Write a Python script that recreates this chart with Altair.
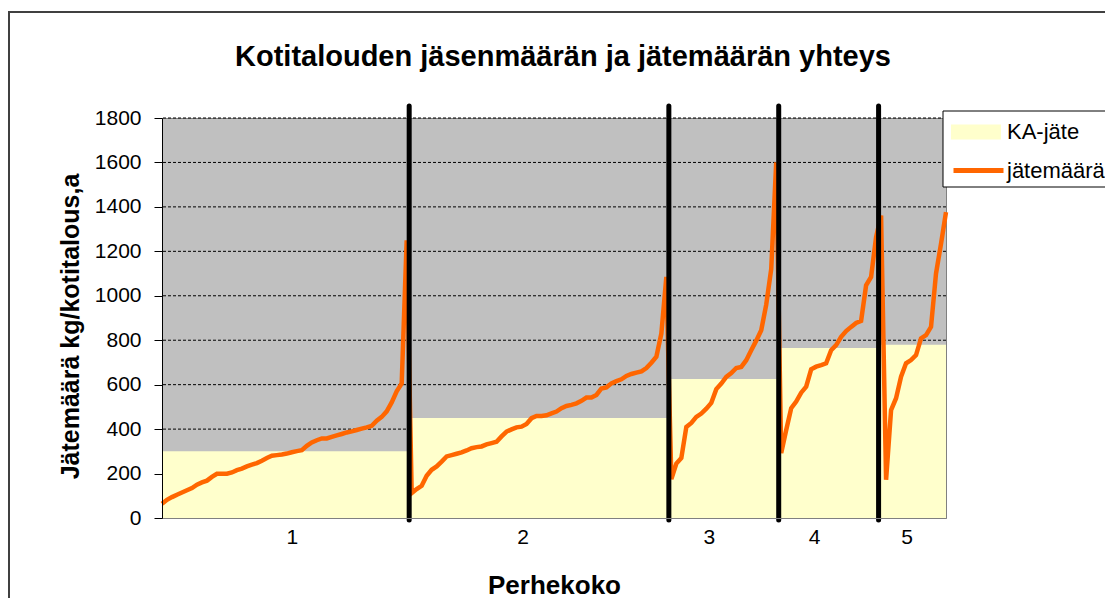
import altair as alt
import pandas as pd

F = "Liberation Sans"

# family sizes (household member count) and sorted annual waste per household (kg)
sizes = ["1", "2", "3", "4", "5"]
waste_1 = [64, 82, 94, 105, 115, 125, 135, 150, 160, 168, 185, 199, 199, 199, 205,
           215, 222, 232, 240, 247, 258, 270, 280, 283, 286, 290, 296, 301, 305, 325,
           340, 350, 358, 358, 365, 372, 378, 385, 390, 396, 402, 408, 415, 438, 455,
           480, 520, 570, 605, 1250]
waste_2 = [112, 130, 145, 190, 217, 232, 254, 277, 283, 289, 295, 304, 314, 319, 322,
           331, 337, 343, 367, 389, 399, 408, 411, 423, 449, 459, 459, 462, 471, 479,
           494, 504, 509, 516, 527, 542, 542, 554, 583, 588, 606, 616, 624, 639, 648,
           654, 660, 675, 699, 726, 830, 1085]
waste_3 = [175, 245, 270, 410, 428, 455, 470, 492, 518, 580, 605, 635, 652, 675, 680,
           710, 755, 798, 845, 960, 1120, 1600]
waste_4 = [292, 396, 494, 524, 564, 591, 669, 681, 688, 696, 755, 778, 815, 841, 860,
           878, 887, 1047, 1085, 1264]
waste_5 = [1361, 172, 486, 539, 636, 696, 711, 733, 808, 823, 860, 1100, 1234, 1376]
avg_waste = [300, 450, 625, 765, 780]          # KA-jäte per family size
label_at = [26, 72.2, 109.5, 130.6, 149.1]     # household index where size labels sit
y_ticks = [0, 200, 400, 600, 800, 1000, 1200, 1400, 1600, 1800]

groups = [waste_1, waste_2, waste_3, waste_4, waste_5]
rows = []
ends = []
idx = 0
for s, vals in zip(sizes, groups):
    for v in vals:
        rows.append({"i": idx, "kg": v, "koko": s, "sarja": "jätemäärä"})
        idx += 1
    ends.append(idx - 1)
n_last = idx - 1
x0 = [0] + [e + 0.5 for e in ends[:-1]]
x1 = [e + 0.5 for e in ends[:-1]] + [n_last]

line_df = pd.DataFrame(rows)
avg_df = pd.DataFrame({"koko": sizes, "x0": x0, "x1": x1, "ka": avg_waste,
                       "sarja": ["KA-jäte"] * len(sizes)})
bound_df = pd.DataFrame({"b": x1[:-1]})
grid_df = pd.DataFrame({"g": y_ticks[1:]})
one = pd.DataFrame({"k": [0]})

xscale = alt.Scale(domain=[0, n_last], nice=False, zero=False)
yscale = alt.Scale(domain=[0, 1800], nice=False)

label_expr = " : ".join(f"datum.value == {p} ? '{s}'" for p, s in zip(label_at, sizes)) + " : ''"

xaxis = alt.Axis(values=label_at, labelExpr=label_expr, ticks=False, tickSize=0, grid=False,
                 domainColor="#808080", labelFont=F, labelFontSize=21, labelColor="black",
                 labelPadding=8, labelFlush=False, labelOverlap=False,
                 title="Perhekoko", titleFont=F, titleFontSize=26, titleFontWeight="bold",
                 titleColor="black", titleX=392, titleY=67, titleBaseline="middle",
                 titleAlign="center", zindex=1)
yaxis = alt.Axis(values=y_ticks, format="d", grid=False, tickSize=8, tickColor="black",
                 domainColor="black", labelFont=F, labelFontSize=21, labelColor="black",
                 labelPadding=13,
                 title="Jätemäärä kg/kotitalous,a", titleFont=F, titleFontSize=25,
                 titleFontWeight="bold", titleColor="black", titleX=-92, titleY=208,
                 titleAngle=270, titleAlign="center", titleBaseline="middle", zindex=1)

grid = alt.Chart(grid_df).mark_rule(color="black", strokeDash=[3, 2], strokeWidth=1).encode(
    y=alt.Y("g:Q", scale=yscale, axis=yaxis)
)

avg_rect = alt.Chart(avg_df).mark_rect().encode(
    x=alt.X("x0:Q", scale=xscale, axis=xaxis),
    x2="x1:Q",
    y=alt.Y("ka:Q", scale=yscale, axis=yaxis),
    y2=alt.datum(0),
    fill=alt.Fill("sarja:N", scale=alt.Scale(domain=["KA-jäte"], range=["#FFFFCC"]),
                  legend=alt.Legend(title=None, orient="none", legendX=789, legendY=-11,
                                    symbolType="M-1,-0.3H1V0.3H-1Z", symbolSize=2500,
                                    symbolStrokeWidth=0, labelFont=F, labelFontSize=22,
                                    labelColor="black", labelOffset=6, padding=0)),
)

line = alt.Chart(line_df).mark_line(strokeWidth=4.5).encode(
    x=alt.X("i:Q", scale=xscale, axis=xaxis),
    y=alt.Y("kg:Q", scale=yscale, axis=yaxis),
    stroke=alt.Stroke("sarja:N", scale=alt.Scale(domain=["jätemäärä"], range=["#FF6600"]),
                      legend=alt.Legend(title=None, orient="none", legendX=789, legendY=25,
                                        symbolType="stroke", symbolSize=2500,
                                        symbolStrokeWidth=5, labelFont=F, labelFontSize=22,
                                        labelColor="black", labelOffset=1, padding=0)),
)

bounds = alt.Chart(bound_df).mark_rule(color="black", strokeWidth=5, strokeCap="round").encode(
    x=alt.X("b:Q", scale=xscale, axis=xaxis),
    y=alt.value(-12),
    y2=alt.value(402),
)

legend_box = alt.Chart(one).mark_rect(fill="white", stroke="black", strokeWidth=1).encode(
    x=alt.value(781), x2=alt.value(960), y=alt.value(-7), y2=alt.value(69)
)

frame_top = alt.Chart(one).mark_rule(color="#404040", strokeWidth=2).encode(
    x=alt.value(-154), x2=alt.value(960), y=alt.value(-106)
)
frame_left = alt.Chart(one).mark_rule(color="#404040", strokeWidth=2).encode(
    x=alt.value(-153), y=alt.value(-106), y2=alt.value(490)
)

title = alt.Chart(one).mark_text(
    text="Kotitalouden jäsenmäärän ja jätemäärän yhteys", font=F, fontSize=29,
    fontWeight="bold", color="black", align="center", baseline="alphabetic"
).encode(x=alt.value(401), y=alt.value(-52))

chart = alt.layer(
    grid, avg_rect, line, bounds, legend_box, frame_top, frame_left, title
).properties(
    width=784,
    height=400,
    padding={"left": 154, "top": 110, "right": 159, "bottom": 80},
    autosize=alt.AutoSizeParams(type="none"),
).configure_view(fill="#C0C0C0", stroke="#808080")

chart.save("out.html", embed_options={"renderer": "svg", "actions": False})
